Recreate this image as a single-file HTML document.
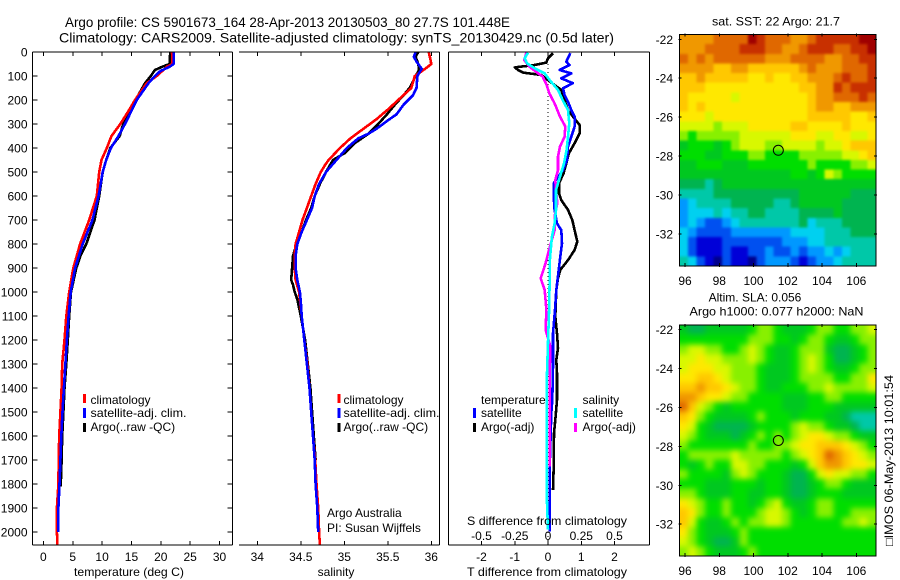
<!DOCTYPE html>
<html>
<head>
<meta charset="utf-8">
<title>Argo profile</title>
<style>
html,body{margin:0;padding:0;background:#fff;}
svg{display:block;font-family:"Liberation Sans","DejaVu Sans",sans-serif;font-size:12px;fill:#000;}
text{fill:#000;}
</style>
</head>
<body>
<svg id="chart" xmlns="http://www.w3.org/2000/svg" width="900" height="580" viewBox="0 0 900 580">
<defs>
<clipPath id="clip1"><rect x="33" y="52" width="199" height="493"/></clipPath>
<clipPath id="clip2"><rect x="239" y="52" width="200" height="493"/></clipPath>
<clipPath id="clip3"><rect x="449" y="52" width="201" height="493"/></clipPath>
<clipPath id="clipSst"><rect x="679.5" y="34.5" width="196.5" height="231.5"/></clipPath>
<clipPath id="clipSla"><rect x="679.5" y="325" width="196.5" height="231"/></clipPath>
<filter id="blurSst" filterUnits="userSpaceOnUse" x="650" y="5" width="250" height="290" color-interpolation-filters="sRGB"><feGaussianBlur stdDeviation="1.4"/></filter>
<filter id="blurSla" filterUnits="userSpaceOnUse" x="650" y="295" width="250" height="285" color-interpolation-filters="sRGB"><feGaussianBlur stdDeviation="3"/></filter>
</defs>
<rect width="900" height="580" fill="#fff"/>
<text x="65" y="27" font-size="14" textLength="445" lengthAdjust="spacingAndGlyphs">Argo profile: CS 5901673_164 28-Apr-2013 20130503_80 27.7S 101.448E</text>
<text x="59" y="42.5" font-size="14" textLength="555" lengthAdjust="spacingAndGlyphs">Climatology: CARS2009. Satellite-adjusted climatology: synTS_20130429.nc (0.5d later)</text>
<g id="panels"></g>
<g id="maps"></g>

<text x="129" y="576" text-anchor="middle" textLength="110" lengthAdjust="spacingAndGlyphs">temperature (deg C)</text>
<text x="336" y="576" text-anchor="middle">salinity</text>
<text x="547" y="576" text-anchor="middle" textLength="160" lengthAdjust="spacingAndGlyphs">T difference from climatology</text>
<text x="547" y="525" text-anchor="middle" textLength="160" lengthAdjust="spacingAndGlyphs">S difference from climatology</text>

<g>
<rect x="83" y="394" width="3" height="9" fill="#ff0000"/>
<text x="90.5" y="404">climatology</text>
<rect x="83" y="408" width="3" height="10" fill="#0000ff"/>
<text x="90.5" y="417" textLength="96" lengthAdjust="spacingAndGlyphs">satellite-adj. clim.</text>
<rect x="83" y="423" width="3" height="9" fill="#000"/>
<text x="90.5" y="431">Argo(..raw -QC)</text>
</g>
<g>
<rect x="337.5" y="394" width="3" height="9" fill="#ff0000"/>
<text x="343.5" y="404">climatology</text>
<rect x="337.5" y="408" width="3" height="10" fill="#0000ff"/>
<text x="343.5" y="417" textLength="96" lengthAdjust="spacingAndGlyphs">satellite-adj. clim.</text>
<rect x="337.5" y="423" width="3" height="9" fill="#000"/>
<text x="343.5" y="431">Argo(..raw -QC)</text>
</g>
<text x="327" y="517">Argo Australia</text>
<text x="327" y="532">PI: Susan Wijffels</text>
<g>
<text x="481" y="404">temperature</text>
<rect x="473" y="408" width="3" height="10" fill="#0000ff"/>
<text x="481" y="417">satellite</text>
<rect x="473" y="423" width="3" height="9" fill="#000"/>
<text x="481" y="431">Argo(-adj)</text>
<text x="582.5" y="404">salinity</text>
<rect x="574" y="408" width="3" height="10" fill="#00ffff"/>
<text x="582.5" y="417">satellite</text>
<rect x="574" y="423" width="3" height="9" fill="#ff00ff"/>
<text x="582.5" y="431">Argo(-adj)</text>
</g>

<text x="776" y="25.5" text-anchor="middle" textLength="128" lengthAdjust="spacingAndGlyphs">sat. SST: 22 Argo: 21.7</text>
<text x="755" y="301.5" text-anchor="middle">Altim. SLA: 0.056</text>
<text x="776.5" y="315.5" text-anchor="middle" textLength="174" lengthAdjust="spacingAndGlyphs">Argo h1000: 0.077 h2000: NaN</text>
<text transform="translate(893,546) rotate(-90)" textLength="171" lengthAdjust="spacingAndGlyphs">□IMOS 06-May-2013 10:01:54</text>
</svg>
<script>
/* ---------- profile data ---------- */
const depthTicks = [0,100,200,300,400,500,600,700,800,900,1000,1100,1200,1300,1400,1500,1600,1700,1800,1900,2000];
const tempTicks = [0,5,10,15,20,25,30];
const salinityTicks = [34,34.5,35,35.5,36];
const tDiffTicks = [-2,-1,0,1,2];
const sDiffTicks = [-0.5,-0.25,0,0.25,0.5];

const tempClimDepth = [0,50,60,100,130,200,250,300,350,400,450,500,600,700,800,900,1000,1100,1200,1300,1400,1500,1600,1700,1800,1900,2000,2055];
const tempClim = [21.9,22.0,21.1,19.3,17.6,15.6,14.4,13.1,11.6,10.8,9.9,9.5,9.1,7.8,6.25,5.1,4.4,3.9,3.6,3.2,3.1,2.9,2.7,2.6,2.55,2.3,2.3,2.4];
const tempSatDepth = [0,50,60,80,100,130,200,250,300,350,400,450,500,600,700,800,900,1000,1100,1200,1300,1400,1500,1600,1700,1800,1900,2000];
const tempSat = [22.2,22.2,21.6,19.9,19.0,17.9,15.9,14.9,13.9,12.8,11.5,10.7,10.1,9.4,8.35,6.7,5.4,4.65,4.3,4.0,3.75,3.5,3.25,3.05,2.9,2.75,2.55,2.55];
const tempArgoDepth = [0,50,60,75,100,130,200,250,300,350,400,450,500,600,700,800,850,900,1000,1100,1200,1300,1400,1500,1600,1700,1810];
const tempArgo = [21.6,21.5,20.4,19.0,18.3,17.3,15.7,14.9,13.6,13.0,11.4,10.7,10.1,9.5,8.7,7.3,6.3,5.6,4.7,4.4,4.15,3.9,3.6,3.4,3.2,3.1,2.95];

const salClimDepth = [0,30,50,70,100,150,200,240,280,320,360,400,450,470,500,550,600,650,700,750,800,850,900,950,1000,1100,1200,1300,1400,1500,1600,1700,1800,1900,2000,2055];
const salClim = [35.97,35.99,36.0,35.93,35.81,35.77,35.62,35.5,35.37,35.22,35.07,34.95,34.82,34.78,34.73,34.67,34.62,34.57,34.52,34.48,34.44,34.43,34.43,34.44,34.48,34.51,34.54,34.575,34.6,34.62,34.64,34.665,34.68,34.7,34.71,34.72];
const salSatDepth = [0,20,40,70,100,150,180,220,260,280,320,340,360,400,450,500,550,600,650,700,750,800,850,900,950,1000,1040,1100,1200,1300,1400,1500,1600,1700,1800,1900,2000];
const salSat = [35.82,35.8,35.83,35.89,35.84,35.83,35.79,35.68,35.6,35.52,35.37,35.28,35.16,35.03,34.91,34.79,34.71,34.66,34.63,34.57,34.51,34.46,34.44,34.44,34.46,34.49,34.5,34.51,34.54,34.57,34.6,34.62,34.64,34.66,34.67,34.69,34.7];
const salArgoDepth = [0,20,50,75,100,150,180,220,260,300,340,380,420,450,500,550,600,650,700,750,800,850,900,950,970,1000,1030,1100,1200,1300,1400,1500,1600,1700];
const salArgo = [35.85,35.82,35.85,35.86,35.82,35.75,35.68,35.58,35.49,35.39,35.28,35.12,35.01,34.87,34.79,34.72,34.66,34.62,34.56,34.51,34.45,34.41,34.4,34.39,34.41,34.43,34.46,34.5,34.55,34.58,34.61,34.63,34.65,34.67];

const tDiffSatDepth = [5,40,54,75,89,110,130,151,179,207,242,269,311,353,394,450,492,547,603,658,714,742,797,853,922,992,1075,1172,1311,1450,1505,1728,1866,1998];
const tDiffSat = [0.67,0.55,0.65,0.35,0.70,0.40,0.75,0.45,0.50,0.60,0.70,0.80,0.80,0.70,0.60,0.57,0.45,0.17,0.17,0.20,0.27,0.40,0.42,0.37,0.31,0.25,0.21,0.15,0.15,0.13,0.10,0.05,0.05,0.05];
const tDiffArgoDepth = [5,26,44,54,64,75,86,96,117,138,158,200,242,269,304,339,380,422,464,505,547,589,617,658,700,742,790,825,867,908,943,992,1102,1172,1234,1283,1339,1450,1519,1589,1728,1825];
const tDiffArgo = [0.15,0,-0.05,-0.40,-1.0,-0.9,-0.75,-0.2,0,0.2,0.4,0.5,0.6,0.75,0.95,0.95,0.8,0.63,0.55,0.47,0.33,0.33,0.4,0.6,0.73,0.8,0.88,0.8,0.6,0.37,0.3,0.25,0.22,0.27,0.3,0.25,0.27,0.27,0.23,0.18,0.17,0.15];
const sDiffArgoDepth = [0,33,61,82,103,138,172,214,269,311,353,394,436,492,533,575,630,686,742,825,880,943,992,1075,1158,1227,1352,1616,1728];
const sDiffArgo = [-0.16,-0.18,-0.14,-0.09,-0.04,-0.01,0.01,0.05,0.09,0.13,0.125,0.09,0.075,0.075,0.055,0.06,0.07,0.05,0.05,0.0075,-0.018,-0.055,-0.025,-0.012,-0.018,0.018,0.012,0.012,0.012];
const sDiffSatDepth = [3,26,47,68,89,117,158,200,242,297,353,408,464,519,575,658,714,769,825,880,964,1075,1172,1352,1589,1866,1990];
const sDiffSat = [-0.15,-0.175,-0.158,-0.1,-0.025,0.0125,0.075,0.11,0.15,0.16,0.15,0.14,0.12,0.09,0.06,0.06,0.05,0.03,0.02,0.012,0.012,0.008,0.002,-0.008,-0.008,-0.008,0];

/* ---------- map data: colour-scale steps, rows north to south ---------- */
const lonTicks = [96,98,100,102,104,106];
const latTicks = [-22,-24,-26,-28,-30,-32];
const argoLon = 101.448;
const argoLat = -27.7;
const sstRows = [
[13,13,13,13,14,14,14,14,16,15,14,14,14,13,13,14,15,15,15,15,15,16,16],
[13,13,13,14,14,14,14,15,15,15,14,14,13,13,14,15,15,15,14,14,15,15,16],
[14,13,14,13,14,14,14,14,14,14,13,13,13,14,14,14,14,13,13,14,14,15,15],
[13,13,13,13,12,12,13,13,12,12,12,12,12,12,13,14,13,13,13,14,14,14,15],
[12,12,13,12,12,12,12,12,11,11,12,11,11,12,12,13,13,13,14,15,14,14,15],
[12,12,12,11,11,11,11,11,11,11,11,11,11,11,12,12,13,13,15,14,15,15,15],
[12,11,11,11,11,11,10,11,11,11,11,11,11,11,11,12,13,13,14,14,14,15,14],
[12,11,12,11,11,11,11,11,11,11,11,11,11,11,11,12,13,13,12,12,13,13,13],
[11,11,11,10,11,11,11,11,11,11,11,11,11,11,11,12,12,12,12,12,11,11,12],
[10,10,10,10,9,10,10,10,11,11,11,11,11,12,12,11,11,11,11,12,11,11,11],
[9,8,9,9,9,9,9,10,10,10,10,10,10,11,11,11,10,10,11,11,10,10,11],
[7,8,8,8,7,8,9,10,10,10,9,9,10,10,10,10,9,10,10,11,12,12,12],
[8,8,8,7,7,8,8,8,9,9,8,8,8,8,9,9,9,9,9,10,10,11,12],
[7,7,8,8,8,7,7,7,8,8,8,8,8,8,8,9,8,8,8,8,9,9,10],
[7,7,7,7,7,7,7,7,7,7,7,7,7,8,8,7,8,10,9,8,8,8,8],
[6,6,6,5,6,7,7,7,7,7,7,7,7,7,7,7,7,7,7,7,7,7,7],
[5,5,5,5,6,6,6,6,6,6,6,6,6,6,7,7,7,7,7,7,6,6,6],
[3,4,5,5,5,5,6,6,6,6,6,5,5,6,7,7,7,7,7,6,6,6,6],
[3,4,4,4,5,4,5,5,6,6,5,5,5,5,6,6,6,6,7,6,6,6,6],
[3,4,3,2,2,3,4,5,5,5,5,5,5,5,6,4,5,5,5,6,6,6,6],
[4,3,2,2,2,2,3,3,3,3,3,3,3,4,4,4,4,5,5,5,6,6,6],
[4,2,1,1,1,2,2,2,2,2,2,2,3,3,3,4,4,5,5,5,5,5,5],
[4,2,1,1,1,2,1,1,2,2,3,2,2,3,2,3,3,4,3,4,5,5,5],
[5,4,2,1,0,2,1,1,0,2,3,3,3,2,1,2,3,3,4,5,5,5,5]
];
const slaRows = [
[7,6,6,7,7,7,7,7,8,9,9,8,7,7,7,8,9,9,8,8,9,9,10],
[8,8,8,8,8,8,8,8,9,9,9,8,8,7,8,9,9,8,7,7,8,9,9],
[9,10,10,9,9,8,8,9,10,9,8,7,7,8,9,9,9,7,6,6,7,8,9],
[10,10,11,10,10,9,9,9,10,9,8,7,7,8,9,10,9,8,6,6,7,8,9],
[10,11,11,11,10,10,9,9,9,8,7,7,7,8,9,10,9,8,7,7,8,9,9],
[11,11,12,12,11,10,9,9,9,8,7,7,7,8,9,9,9,9,8,8,9,9,11],
[12,12,13,12,12,11,10,9,9,8,7,7,8,8,8,9,9,10,9,9,9,9,10],
[13,13,12,11,11,10,9,9,8,8,8,8,7,7,7,8,8,9,9,8,8,8,8],
[14,12,10,9,8,7,8,8,8,8,8,8,7,7,7,8,8,8,7,7,7,7,7],
[12,11,9,8,7,7,7,7,8,9,8,8,8,7,8,8,8,7,7,6,5,5,5],
[11,10,8,7,6,6,6,6,7,8,8,8,8,9,10,9,9,8,7,7,6,5,5],
[10,9,8,7,7,7,6,7,8,9,8,9,8,9,10,11,11,10,9,9,8,7,7],
[9,8,8,8,8,8,8,8,9,8,8,9,9,10,11,11,12,12,12,11,10,9,8],
[8,9,9,9,9,9,10,9,9,9,9,9,8,9,10,11,12,14,13,12,11,10,9],
[8,7,8,9,8,8,10,10,9,9,8,8,8,7,8,10,12,13,13,12,11,11,10],
[9,8,8,8,8,7,9,10,9,8,8,8,7,6,6,8,10,11,10,10,9,9,8],
[8,8,8,7,7,7,8,8,8,7,8,8,7,6,6,7,8,9,9,8,7,7,7],
[9,9,8,7,7,7,8,8,7,7,8,8,7,6,6,7,8,8,8,7,7,7,7],
[11,10,9,8,8,9,8,8,7,8,9,10,8,7,7,8,9,9,8,8,8,8,8],
[12,11,9,8,8,9,8,8,8,9,10,10,9,8,7,8,9,9,8,8,9,9,9],
[12,10,8,7,7,8,9,8,9,9,10,10,9,8,8,8,8,8,8,9,9,10,9],
[11,9,8,7,7,7,8,9,8,8,8,8,8,8,8,8,8,8,8,8,8,8,8],
[10,9,8,7,6,6,7,9,8,8,8,8,8,8,8,8,8,8,8,8,8,8,8],
[9,10,9,8,7,7,7,8,9,8,8,8,8,8,8,8,8,8,8,8,8,8,8]
];

/* ---------- axis functions ---------- */
const NS = 'http://www.w3.org/2000/svg';
const panels = document.getElementById('panels');
const maps = document.getElementById('maps');
const topY = 52, botY = 545;
const lineWidth = 2.6;
function yDepth(d){ return topY + d * 0.24; }
function xTemp(v){ return 43.4 + v * 5.87; }
function xSal(v){ return 257.3 + (v - 34) * 87; }
function xTDiff(v){ return 548 + v * 33.25; }
function xSDiff(v){ return 548 + v * 133; }
function xLon(v){ return 685 + (v - 96) * 17.13; }
function ySst(v){ return 39.3 + (-22 - v) * 19.47; }
function ySla(v){ return 329.5 + (-22 - v) * 19.47; }
const stepColors = ['#00008c','#0000d8','#0050f0','#0098ff','#00d0f0','#00c8a8','#00b450','#00c820','#00de00','#88f000','#d8f800','#ffe800','#ffc800','#f09800','#e06800','#c83000','#a00000'];
function colorForStep(v){
  const i = Math.max(0, Math.min(stepColors.length - 1, Math.round(v)));
  return stepColors[i];
}
function mk(tag, attrs, parent){
  const el = document.createElementNS(NS, tag);
  for (const k in attrs) el.setAttribute(k, attrs[k]);
  parent.appendChild(el);
  return el;
}
function tickLine(x1, y1, x2, y2, parent){
  const t = mk('line', {x1:x1, y1:y1, x2:x2, y2:y2, stroke:'#000', 'stroke-width':1, 'shape-rendering':'crispEdges'}, parent);
  
  
  return t;
}
function label(str, x, y, anchor, parent){
  const t = mk('text', {x:x, y:y, 'text-anchor':anchor}, parent);
  t.textContent = str;
  
  
  return t;
}
function profile(depths, values, xFn, color, clip){
  const pts = depths.map(function(d, i){ return xFn(values[i]).toFixed(1) + ',' + yDepth(d).toFixed(1); }).join(' ');
  return mk('polyline', {points:pts, fill:'none', stroke:color, 'stroke-width':lineWidth, 'stroke-linejoin':'round', 'clip-path':'url(#' + clip + ')', 'shape-rendering':'crispEdges'}, panels);
}
function axisBox(segments){
  segments.forEach(function(s){ tickLine(s[0], s[1], s[2], s[3], panels); });
}

/* ---------- panel 1: temperature ---------- */
const l1 = profile(tempArgoDepth, tempArgo, xTemp, '#000', 'clip1');


const l2 = profile(tempClimDepth, tempClim, xTemp, '#ff0000', 'clip1');


const l3 = profile(tempSatDepth, tempSat, xTemp, '#0000ff', 'clip1');


axisBox([[32.5,botY,232.5,botY],[32.5,topY,232.5,topY],[32.5,topY,32.5,botY],[232.5,topY,232.5,botY]]);
depthTicks.forEach(function(d){
  tickLine(32.5, yDepth(d), 37.5, yDepth(d), panels);
  tickLine(227.5, yDepth(d), 232.5, yDepth(d), panels);
  label(String(d), 27.5, yDepth(d) + 4.5, 'end', panels);
});
tempTicks.forEach(function(v){
  tickLine(xTemp(v), topY, xTemp(v), topY + 4, panels);
  tickLine(xTemp(v), botY - 4, xTemp(v), botY, panels);
  label(String(v), xTemp(v), 561, 'middle', panels);
});

/* ---------- panel 2: salinity ---------- */
const l4 = profile(salArgoDepth, salArgo, xSal, '#000', 'clip2');


const l5 = profile(salClimDepth, salClim, xSal, '#ff0000', 'clip2');


const l6 = profile(salSatDepth, salSat, xSal, '#0000ff', 'clip2');


axisBox([[239,botY,439.5,botY],[239,topY,439.5,topY],[439.5,topY,439.5,botY]]);
salinityTicks.forEach(function(v){
  tickLine(xSal(v), topY, xSal(v), topY + 4, panels);
  tickLine(xSal(v), botY - 4, xSal(v), botY, panels);
  label(String(v), xSal(v), 561, 'middle', panels);
});

/* ---------- panel 3: differences ---------- */
const zero = mk('line', {x1:xTDiff(0), y1:topY, x2:xTDiff(0), y2:botY, stroke:'#000', 'stroke-width':1, 'stroke-dasharray':'1 3', 'shape-rendering':'crispEdges'}, panels);


const l7 = profile(tDiffArgoDepth, tDiffArgo, xTDiff, '#000', 'clip3');


const l8 = profile(tDiffSatDepth, tDiffSat, xTDiff, '#0000ff', 'clip3');


const l9 = profile(sDiffArgoDepth, sDiffArgo, xSDiff, '#ff00ff', 'clip3');


const l10 = profile(sDiffSatDepth, sDiffSat, xSDiff, '#00ffff', 'clip3');


axisBox([[448.5,botY,649.5,botY],[448.5,topY,649.5,topY],[448.5,topY,448.5,botY],[649.5,topY,649.5,botY]]);
tDiffTicks.forEach(function(v){
  tickLine(xTDiff(v), topY, xTDiff(v), topY + 4, panels);
  tickLine(xTDiff(v), botY - 4, xTDiff(v), botY, panels);
  label(String(v), xTDiff(v), 561, 'middle', panels);
});
sDiffTicks.forEach(function(v){
  label(String(v), xSDiff(v), 540, 'middle', panels);
});

/* ---------- maps ---------- */
function drawMap(rows, left, top, width, height, yFn, clipId, filterId){
  const nr = rows.length, nc = rows[0].length;
  const w = width / nc, h = height / nr;
  const pad = 12;
  const clipGroup = mk('g', {'clip-path':'url(#' + clipId + ')'}, maps);
  
  
  const blurGroup = mk('g', {filter:'url(#' + filterId + ')'}, clipGroup);
  
  
  rows.forEach(function(row, r){
    row.forEach(function(v, c){
      const x0 = c === 0 ? left - pad : left + c * w;
      const x1 = c === nc - 1 ? left + width + pad : left + (c + 1) * w + 0.5;
      const y0 = r === 0 ? top - pad : top + r * h;
      const y1 = r === nr - 1 ? top + height + pad : top + (r + 1) * h + 0.5;
      const cell = mk('rect', {x:x0.toFixed(2), y:y0.toFixed(2), width:(x1 - x0).toFixed(2), height:(y1 - y0).toFixed(2), fill:colorForStep(v), 'shape-rendering':'crispEdges'}, blurGroup);
      
      
    });
  });
  const frame = mk('rect', {x:left, y:top, width:width, height:height, fill:'none', stroke:'#000', 'stroke-width':1, 'shape-rendering':'crispEdges'}, maps);
  
  
  const bot = top + height, right = left + width;
  lonTicks.forEach(function(v){
    tickLine(xLon(v), top - 1, xLon(v), top + 2, maps);
    tickLine(xLon(v), bot - 3, xLon(v), bot + 1, maps);
    label(String(v), xLon(v), bot === 266 ? 285 : 575, 'middle', maps);
  });
  latTicks.forEach(function(v){
    tickLine(left - 1, yFn(v), left + 2, yFn(v), maps);
    tickLine(right - 2, yFn(v), right + 1, yFn(v), maps);
    label(String(v), 673, yFn(v) + 4.5, 'end', maps);
  });
  const marker = mk('circle', {cx:xLon(argoLon), cy:yFn(argoLat), r:5, fill:'none', stroke:'#000', 'stroke-width':1}, maps);
  
  
}
drawMap(sstRows, 679.5, 34.5, 196.5, 231.5, ySst, 'clipSst', 'blurSst');
drawMap(slaRows, 679.5, 325, 196.5, 231, ySla, 'clipSla', 'blurSla');
</script>
</body>
</html>
